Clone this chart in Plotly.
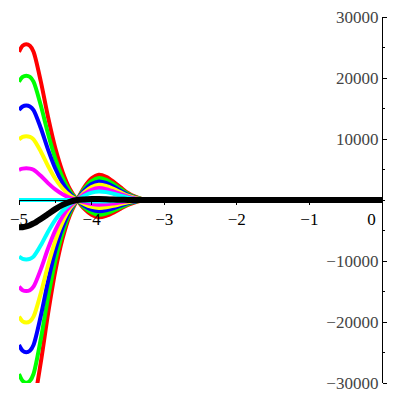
'''
    Damped curve family drawn in a Maple-like style: two fans of coloured
    curves meeting at a node near x = -4.2, plus one thick black curve.
'''

import plotly.graph_objects as go

# Common x samples for every curve
X_VALUES = [-5, -4.95, -4.9, -4.85, -4.8, -4.7, -4.6, -4.5, -4.4, -4.3, -4.2,
            -4.1, -4.0, -3.9, -3.8, -3.7, -3.6, -3.5, -3.4, -3.3, -3.2,
            -3.0, -2.8, -2.6, -2.4, -2.2, -2.0, -1.5, -1.0, -0.5, 0]

# Upper fan (positive at x = -5)
TOP_RED = [24300, 25270, 25520, 25270, 24300, 19440, 13610, 8510, 4620, 1820, 0,
           -1450, -2430, -2840, -2610, -2070, -1420, -800, -370, -100, 50,
           120, 100, 50, 20, 10, 0, 0, 0, 0, 0]
TOP_GREEN = [19400, 20180, 20370, 20180, 19400, 15520, 10860, 6790, 3690, 1460, 0,
             -1220, -2050, -2400, -2210, -1750, -1200, -670, -310, -80, 40,
             100, 80, 40, 20, 10, 0, 0, 0, 0, 0]
TOP_BLUE = [14750, 15340, 15490, 15340, 14750, 11800, 8260, 5160, 2800, 1110, 0,
            -940, -1580, -1850, -1700, -1350, -930, -520, -240, -60, 30,
            80, 60, 30, 15, 5, 0, 0, 0, 0, 0]
TOP_YELLOW = [9950, 10350, 10450, 10350, 9950, 7960, 5570, 3480, 1890, 750, 0,
              -670, -1120, -1310, -1210, -960, -660, -370, -170, -50, 20,
              60, 40, 20, 10, 0, 0, 0, 0, 0, 0]
TOP_MAGENTA = [4950, 5150, 5200, 5150, 4950, 3960, 2770, 1730, 940, 370, 0,
               -390, -660, -770, -710, -560, -390, -220, -100, -30, 10,
               30, 30, 10, 0, 0, 0, 0, 0, 0, 0]
TOP_CYAN = [0, 0, 0, 0, 0, 0, 0, 0, 0, 0, 0,
            -130, -210, -250, -230, -180, -130, -70, -30, -10, 0,
            10, 10, 0, 0, 0, 0, 0, 0, 0, 0]

# Lower fan (negative at x = -5)
LOW_CYAN = [-9290, -9660, -9750, -9660, -9290, -7430, -5200, -3250, -1770, -700, 0,
            710, 1200, 1400, 1290, 1020, 700, 390, 180, 50, -20,
            -60, -50, -20, -10, 0, 0, 0, 0, 0, 0]
LOW_MAGENTA = [-14210, -14780, -14920, -14780, -14210, -11370, -7960, -4970, -2700, -1070, 0,
               990, 1670, 1950, 1790, 1420, 980, 550, 250, 70, -30,
               -80, -70, -30, -20, -10, 0, 0, 0, 0, 0]
LOW_YELLOW = [-19130, -19900, -20090, -19900, -19130, -15300, -10710, -6700, -3630, -1430, 0,
              1280, 2140, 2500, 2300, 1830, 1250, 700, 330, 90, -40,
              -110, -90, -40, -20, -10, 0, 0, 0, 0, 0]
LOW_BLUE = [-23770, -24720, -24960, -24720, -23770, -19020, -13310, -8320, -4520, -1780, 0,
            1560, 2610, 3050, 2810, 2230, 1530, 850, 400, 110, -50,
            -130, -100, -50, -20, -10, 0, 0, 0, 0, 0]
LOW_GREEN = [-28520, -29660, -29950, -29660, -28520, -22820, -15970, -9980, -5420, -2140, 0,
             1840, 3080, 3600, 3310, 2630, 1800, 1010, 470, 130, -60,
             -150, -120, -60, -30, -10, 0, 0, 0, 0, 0]
LOW_RED = [-33300, -34630, -34970, -34630, -33300, -26640, -18650, -11660, -6330, -2500, 0,
           2120, 3550, 4150, 3820, 3030, 2080, 1160, 540, 150, -70,
           -180, -140, -70, -30, -10, 0, 0, 0, 0, 0]

# Thick black curve
BLACK = [-4480, -4450, -4330, -4130, -3850, -3100, -2300, -1500, -800, -300, 0,
         100, 150, 150, 120, 80, 40, 20, 10, 0, 0,
         0, 0, 0, 0, 0, 0, 0, 0, 0, 0]

X_TICKS = [-5, -4, -3, -2, -1, 0]
X_TICK_TEXT = ['\u22125', '\u22124', '\u22123', '\u22122', '\u22121',
               '0\u00a0\u00a0\u00a0\u00a0\u00a0']
Y_TICKS = [-30000, -20000, -10000, 10000, 20000, 30000]
Y_TICK_TEXT = ['\u221230000', '\u221220000', '\u221210000', '10000', '20000', '30000']

CURVES = [
    (TOP_RED, '#FF0000'), (TOP_GREEN, '#00FF00'), (TOP_BLUE, '#0000FF'),
    (TOP_YELLOW, '#FFFF00'), (TOP_MAGENTA, '#FF00FF'), (TOP_CYAN, '#00FFFF'),
    (LOW_RED, '#FF0000'), (LOW_GREEN, '#00FF00'), (LOW_BLUE, '#0000FF'),
    (LOW_YELLOW, '#FFFF00'), (LOW_MAGENTA, '#FF00FF'), (LOW_CYAN, '#00FFFF'),
]


def init_figure():
    '''
        Sets up the figure with Maple-style crossing axes.
    '''
    fig = go.Figure()
    fig.update_layout(
        width=400, height=400,
        margin=dict(l=19, r=18, t=17, b=17, autoexpand=False),
        paper_bgcolor='white', plot_bgcolor='white',
        showlegend=False,
        font=dict(family='Liberation Serif', size=17, color='black'),
    )
    fig.update_xaxes(
        range=[-5, 0], anchor='free', position=0.5, automargin=False,
        showgrid=False, zeroline=False,
        showline=True, linecolor='black', linewidth=1,
        tickmode='array', tickvals=X_TICKS, ticktext=X_TICK_TEXT,
        ticks='outside', ticklen=4, tickcolor='black',
        ticklabeloverflow='allow',
        minor=dict(tickmode='linear', tick0=-5, dtick=0.5,
                   ticks='outside', ticklen=2, tickcolor='black'),
    )
    fig.update_yaxes(
        range=[-30000, 30000], side='right', automargin=False,
        showgrid=False, zeroline=False,
        showline=True, linecolor='black', linewidth=1,
        tickmode='array', tickvals=Y_TICKS, ticktext=Y_TICK_TEXT,
        ticks='outside', ticklen=4, tickcolor='black',
        ticklabelposition='inside', ticklabeloverflow='allow',
        ticklabelstandoff=4,
        minor=dict(tickmode='linear', tick0=0, dtick=5000,
                   ticks='outside', ticklen=2, tickcolor='black'),
    )
    return fig


def draw_curves(fig):
    '''
        Adds every coloured curve, then the black one on top.
    '''
    for values, color in CURVES:
        fig.add_trace(go.Scatter(
            x=X_VALUES, y=values, mode='lines',
            line=dict(color=color, width=4, shape='spline', smoothing=0.8),
            hoverinfo='skip',
        ))
    fig.add_trace(go.Scatter(
        x=X_VALUES, y=BLACK, mode='lines',
        line=dict(color='black', width=6, shape='spline', smoothing=0.8),
        hoverinfo='skip',
    ))
    return fig


fig = draw_curves(init_figure())
# the page's default body margin would push the figure 8px down and right
fig.write_html('out.html', config={'displayModeBar': False},
               post_script="document.body.style.margin='0px';")
